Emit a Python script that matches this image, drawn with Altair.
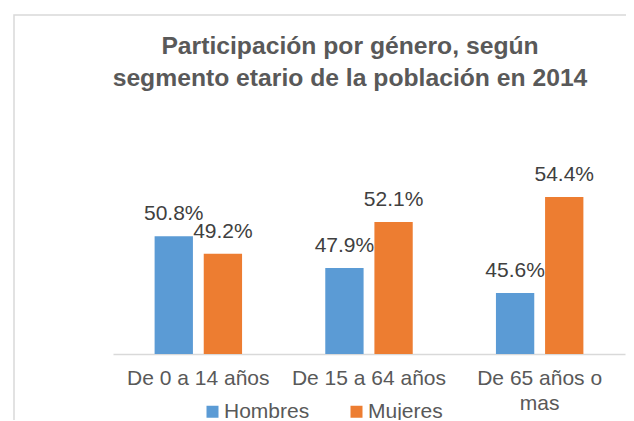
import altair as alt
import pandas as pd

categories = ["De 0 a 14 años", "De 15 a 64 años", "De 65 años o mas"]
series = ["Hombres", "Mujeres"]
hombres = [0.508, 0.479, 0.456]
mujeres = [0.492, 0.521, 0.544]
colors = ["#5B9BD5", "#ED7D31"]
title_lines = ["Participación por género, según", "segmento etario de la población en 2014"]
Y_MIN, Y_MAX = 0.40, 0.60

rows = []
for i, c in enumerate(categories):
    rows.append({"cat": c, "serie": series[0], "value": hombres[i]})
    rows.append({"cat": c, "serie": series[1], "value": mujeres[i]})
df = pd.DataFrame(rows)

FONT = "Liberation Sans"
TXT = "#595959"

xenc = alt.X(
    "cat:N",
    sort=categories,
    scale=alt.Scale(paddingInner=0.43, paddingOuter=0.215),
    axis=alt.Axis(
        title=None, labelAngle=0, ticks=False, domainColor="#d9d9d9", domainWidth=1.5,
        labelFontSize=21, labelColor=TXT, labelFont=FONT, labelPadding=13,
        labelLineHeight=25, labelLimit=300, labelBaseline="top",
        labelExpr="indexof(datum.label, ' o mas') >= 0 ? [replace(datum.label, ' mas', ''), 'mas'] : datum.label",
    ),
)
xoff = alt.XOffset("serie:N", sort=series, scale=alt.Scale(paddingInner=0.22, paddingOuter=0.1))
yenc = alt.Y("value:Q", scale=alt.Scale(domain=[Y_MIN, Y_MAX], zero=False, nice=False), axis=None)

base = alt.Chart(df)

bars = base.mark_bar().encode(
    x=xenc,
    xOffset=xoff,
    y=yenc,
    y2=alt.Y2(datum=Y_MIN),
    color=alt.Color(
        "serie:N",
        sort=series,
        scale=alt.Scale(domain=series, range=colors),
        legend=alt.Legend(
            title=None, orient="none", legendX=89, legendY=265, direction="horizontal",
            columns=2, columnPadding=36, symbolType="square", symbolSize=144,
            symbolStrokeWidth=0, labelFontSize=21, labelFont=FONT, labelColor=TXT,
            labelOffset=1,
        ),
    ),
)

labels = base.mark_text(dy=-16, baseline="alphabetic", fontSize=21, font=FONT, color="#404040").encode(
    x=xenc,
    xOffset=xoff,
    y=yenc,
    text=alt.Text("value:Q", format=".1%"),
)

frame = alt.Chart(pd.DataFrame({"a": [0]})).mark_rect(
    fill=None, fillOpacity=0, stroke="#d9d9d9", strokeWidth=1.5
).encode(
    x=alt.value(-99), x2=alt.value(800), y=alt.value(-121), y2=alt.value(600)
)

chart = alt.layer(frame, bars, labels).properties(
    width=512,
    height=218,
    autosize=alt.AutoSizeParams(type="none"),
    padding={"left": 105, "top": 128, "right": 1, "bottom": 66},
    title=alt.TitleParams(
        title_lines, fontSize=24.7, fontWeight="bold", color=TXT, font=FONT,
        frame="group", anchor="middle", dx=-19, offset=-76, lineHeight=32,
    ),
).configure_view(stroke=None)

chart.save("out.html", embed_options={"renderer": "svg", "actions": False})
